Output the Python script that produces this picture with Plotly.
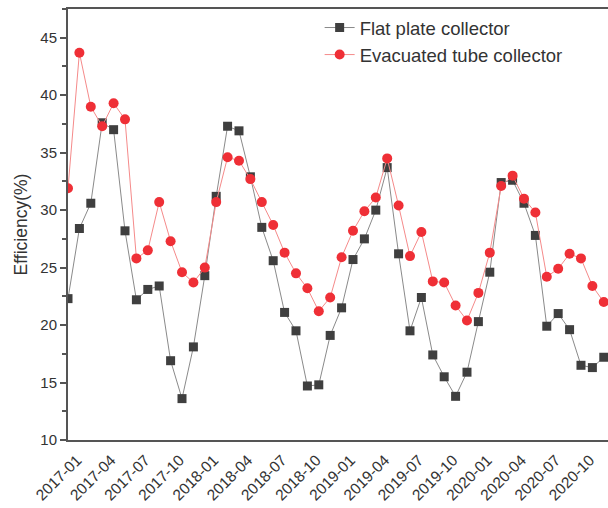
import plotly.graph_objects as go

months = [f"{y}-{m:02d}" for y in range(2017, 2021) for m in range(1, 13)]

flat_plate = [22.3, 28.4, 30.6, 37.6, 37.0, 28.2, 22.2, 23.1, 23.4, 16.9, 13.6, 18.1,
              24.3, 31.2, 37.3, 36.9, 32.9, 28.5, 25.6, 21.1, 19.5, 14.7, 14.8, 19.1,
              21.5, 25.7, 27.5, 30.0, 33.7, 26.2, 19.5, 22.4, 17.4, 15.5, 13.8, 15.9,
              20.3, 24.6, 32.4, 32.6, 30.6, 27.8, 19.9, 21.0, 19.6, 16.5, 16.3, 17.2]

evacuated_tube = [31.9, 43.7, 39.0, 37.3, 39.3, 37.9, 25.8, 26.5, 30.7, 27.3, 24.6, 23.7,
                  25.0, 30.7, 34.6, 34.3, 32.7, 30.7, 28.7, 26.3, 24.5, 23.2, 21.2, 22.4,
                  25.9, 28.2, 29.9, 31.1, 34.5, 30.4, 26.0, 28.1, 23.8, 23.7, 21.7, 20.4,
                  22.8, 26.3, 32.1, 33.0, 31.0, 29.8, 24.2, 24.9, 26.2, 25.8, 23.4, 22.0]

tick_labels = months[::3]

fig = go.Figure()
fig.add_trace(go.Scatter(
    x=months, y=flat_plate, mode="lines+markers", name="Flat plate collector",
    line=dict(color="#8a8a8a", width=1),
    marker=dict(symbol="square", size=9, color="#3f3f3f"),
))
fig.add_trace(go.Scatter(
    x=months, y=evacuated_tube, mode="lines+markers", name="Evacuated tube collector",
    line=dict(color="#f58a8a", width=1),
    marker=dict(symbol="circle", size=10, color="#ef2f36"),
))

fig.update_layout(
    width=608, height=508,
    margin=dict(l=68, r=0, t=9, b=68),
    paper_bgcolor="white", plot_bgcolor="white",
    font=dict(family="Liberation Sans, Arial, sans-serif", color="#333333"),
    showlegend=True,
    legend=dict(x=0.466, y=1.0, xanchor="left", yanchor="top",
                bgcolor="rgba(0,0,0,0)", font=dict(size=18.5, color="#333333"),
                tracegroupgap=0, itemwidth=30),
    xaxis=dict(
        type="category", categoryorder="array", categoryarray=months,
        range=[0, 47.37], automargin=False,
        tickmode="array", tickvals=tick_labels, ticktext=tick_labels,
        tickangle=-45, tickfont=dict(size=15.5, color="#333333"),
        ticklabelshift=9, ticklabelstandoff=3,
        showline=True, linecolor="#555555", linewidth=2, mirror=True,
        showgrid=False, zeroline=False, ticks="",
    ),
    yaxis=dict(
        range=[10, 47.5], automargin=False,
        tickmode="array", tickvals=[10, 15, 20, 25, 30, 35, 40, 45],
        tickfont=dict(size=15, color="#333333"),
        showline=True, linecolor="#555555", linewidth=2, mirror=False,
        showgrid=False, zeroline=False, ticks="outside", ticklen=6, tickwidth=1.5,
        tickcolor="#555555",
        minor=dict(tickvals=[12.5, 17.5, 22.5, 27.5, 32.5, 37.5, 42.5, 47.5],
                   ticks="outside", ticklen=4, tickwidth=1.5, tickcolor="#555555"),
        title=dict(text="Efficiency(%)", font=dict(size=17.5, color="#333333"), standoff=8),
    ),
)

fig.write_html("out.html", config={"displayModeBar": False},
               post_script="document.body.style.margin='0';document.body.style.overflow='hidden';")
